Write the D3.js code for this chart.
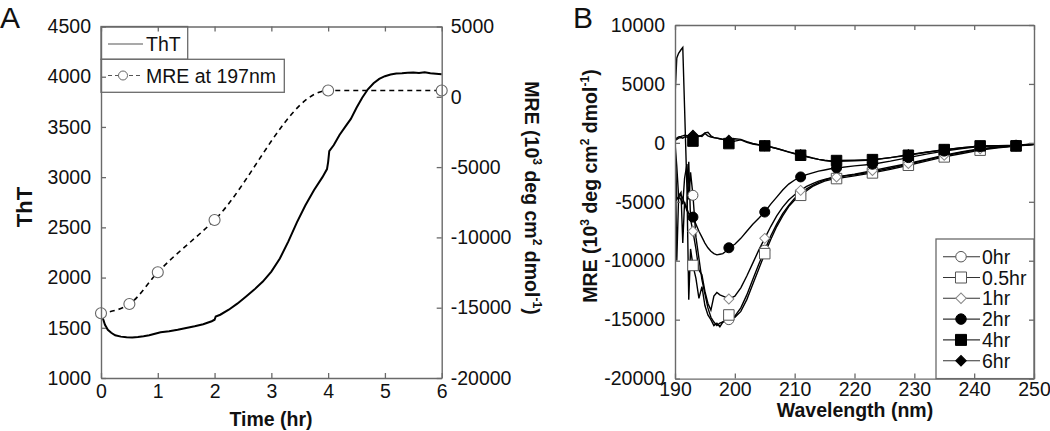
<!DOCTYPE html>
<html><head><meta charset="utf-8">
<script src="https://cdn.jsdelivr.net/npm/d3@7"></script>
<style>
body{margin:0;background:#fff;}
svg{display:block;}
text{font-family:"Liberation Sans",Arial,sans-serif;fill:#111;}
</style></head>
<body><svg id="c" width="1050" height="431"></svg>
<script>
// ---------- Panel A data ----------
const thtTime = [0,0.03,0.07,0.12,0.18,0.25,0.35,0.45,0.55,0.65,0.75,0.85,0.95,1.05,1.2,1.35,1.5,1.65,1.8,1.95,2.0,2.02,2.1,2.25,2.4,2.55,2.7,2.85,3.0,3.15,3.3,3.45,3.6,3.75,3.9,3.98,4.0,4.02,4.1,4.2,4.3,4.4,4.5,4.6,4.7,4.8,4.9,5.0,5.1,5.2,5.3,5.4,5.5,5.6,5.7,5.8,5.9,6.0];
const thtValue = [1660,1600,1530,1480,1450,1425,1412,1405,1404,1408,1415,1425,1440,1455,1465,1480,1498,1515,1535,1565,1580,1612,1630,1680,1740,1810,1880,1960,2060,2190,2360,2550,2720,2870,3000,3080,3150,3260,3320,3420,3500,3580,3690,3790,3875,3935,3978,4005,4022,4033,4035,4040,4042,4038,4045,4035,4030,4025];
const mreTime = [0,0.5,1,2,4,6];
const mreValue = [-15400,-14740,-12480,-8760,450,450];
const thtTicks = [1000,1500,2000,2500,3000,3500,4000,4500];
const mreTicks = [-20000,-15000,-10000,-5000,0,5000];
const timeTicks = [0,1,2,3,4,5,6];

// ---------- Panel B data ----------
const wavelengths = [190,190.3,190.6,191,191.3,191.6,192,192.3,192.6,193,
  193.5,194,194.5,195,195.5,196,196.5,197,197.5,198,198.5,
  199,200,201,202,203,204,205,206,207,208,209,210,211,212,213,214,215,216,217,
  220,223,226,229,232,235,238,241,244,247,250];
const seriesNames = ["0hr","0.5hr","1hr","2hr","4hr","6hr"];
const mre0hr = [0,-10000,-4600,-4800,-5200,-3000,-1800,-4800,-2500,-4450,
  -8000,-9800,-11600,-12800,-14000,-14800,-15200,-15500,-15300,-15200,-15100,
  -15000,-14700,-14000,-12900,-11600,-10300,-9100,-7900,-6900,-6000,-5300,-4700,-4300,-3900,-3600,-3350,-3150,-3000,-2900,
  -2700,-2450,-2150,-1800,-1450,-1100,-800,-550,-380,-250,-130];
const mre05hr = [4000,7200,7600,7900,8100,3000,-4000,-13300,-9000,-10400,
  -11500,-13200,-12200,-13800,-14600,-15000,-15500,-15300,-15600,-15200,-15000,
  -14600,-14800,-14300,-13300,-12000,-10700,-9400,-8200,-7100,-6200,-5400,-4850,-4450,-4050,-3700,-3450,-3250,-3120,-3030,
  -2800,-2550,-2250,-1900,-1550,-1190,-900,-620,-420,-270,-150];
const mre1hr = [0,-2000,-4500,-4200,-8500,-5000,-5800,-1600,-6500,-7500,
  -9000,-10800,-11200,-12600,-13600,-14200,-13000,-12700,-12900,-13000,-13100,
  -13250,-13000,-12300,-11300,-10200,-9100,-8100,-7100,-6200,-5450,-4850,-4400,-4030,-3700,-3450,-3250,-3100,-2980,-2890,
  -2650,-2350,-2050,-1750,-1400,-1050,-750,-500,-350,-250,-130];
const mre2hr = [0,-4800,-4600,-4400,-4700,-5200,-5600,-6000,-6100,-6300,
  -6900,-7500,-8000,-8500,-8900,-9200,-9400,-9500,-9450,-9400,-9200,
  -8900,-8600,-8100,-7500,-6900,-6400,-5870,-5200,-4600,-4000,-3500,-3150,-2890,-2700,-2550,-2400,-2300,-2200,-2130,
  -1950,-1815,-1550,-1250,-950,-700,-480,-300,-230,-200,-100];
const mre4hr = [200,300,400,450,400,500,500,450,400,150,
  450,600,550,800,600,500,450,400,350,300,200,
  -60,150,250,50,-100,-180,-255,-350,-480,-630,-780,-920,-1050,-1180,-1300,-1400,-1480,-1530,-1500,
  -1470,-1420,-1250,-1050,-800,-570,-400,-255,-250,-255,-80];
const mre6hr = [300,400,500,550,600,650,600,650,600,650,
  700,550,650,850,900,600,450,400,350,300,250,
  230,350,300,100,-50,-150,-250,-350,-480,-620,-760,-890,-1000,-1140,-1280,-1400,-1500,-1560,-1560,
  -1520,-1450,-1250,-1000,-800,-600,-420,-300,-260,-250,-120];
const markerWavelengths = [193,199,205,211,217,223,229,235,241,247];
const mreBTicks = [-20000,-15000,-10000,-5000,0,5000,10000];
const wlTicks = [190,200,210,220,230,240,250];

// ---------- drawing ----------
const svg = d3.select("#c");
const AX = "#6a6a6a";
const FS = 19.5;
const fmt = d => String(d);

function styleAxis(g){
  g.selectAll("path.domain").attr("stroke",AX).attr("stroke-width",1.4);
  g.selectAll(".tick line").attr("stroke",AX).attr("stroke-width",1.3);
  g.selectAll(".tick text").attr("font-size",FS).attr("font-family","Liberation Sans, Arial, sans-serif").attr("fill","#111");
}
function supLabel(t, parts){
  parts.forEach(p=>{
    const ts = t.append("tspan").text(p.t);
    if(p.sup){ ts.attr("font-size",FS*0.62).attr("dy",-8); }
    else if(p.down){ ts.attr("dy",8); }
  });
}

// Panel A
const xA = d3.scaleLinear().domain([0,6]).range([101,441.7]);
const yA = d3.scaleLinear().domain([1000,4500]).range([378,26.5]);
const yA2 = d3.scaleLinear().domain([-20000,5000]).range([378,26.5]);

const gA = svg.append("g");
gA.append("path").datum(thtTime.map((t,i)=>[t,thtValue[i]]))
  .attr("d",d3.line().x(d=>xA(d[0])).y(d=>yA(d[1])))
  .attr("fill","none").attr("stroke","#000").attr("stroke-width",2);
gA.append("path").datum(mreTime.map((t,i)=>[t,mreValue[i]]))
  .attr("d",d3.line().x(d=>xA(d[0])).y(d=>yA2(d[1])).curve(d3.curveMonotoneX))
  .attr("fill","none").attr("stroke","#000").attr("stroke-width",1.6).attr("stroke-dasharray","5,4");
gA.selectAll("circle.mre").data(mreTime.map((t,i)=>[t,mreValue[i]])).join("circle")
  .attr("cx",d=>xA(d[0])).attr("cy",d=>yA2(d[1])).attr("r",5.5)
  .attr("fill","#fff").attr("stroke","#666").attr("stroke-width",1.1);

// legend A
const legA = svg.append("g");
legA.append("rect").attr("x",101).attr("y",26.5).attr("width",86.7).attr("height",32.8).attr("fill","#fff").attr("stroke",AX).attr("stroke-width",1.3);
legA.append("rect").attr("x",101).attr("y",59.3).attr("width",183.3).attr("height",33).attr("fill","#fff").attr("stroke",AX).attr("stroke-width",1.3);
legA.append("line").attr("x1",108).attr("x2",143).attr("y1",44).attr("y2",44).attr("stroke","#555").attr("stroke-width",1.1);
legA.append("text").attr("x",146).attr("y",50.5).attr("font-size",FS).text("ThT");
legA.append("line").attr("x1",108).attr("x2",143).attr("y1",75.5).attr("y2",75.5).attr("stroke","#555").attr("stroke-width",1.1).attr("stroke-dasharray","4,3");
legA.append("circle").attr("cx",123).attr("cy",75.5).attr("r",4.5).attr("fill","#fff").attr("stroke","#666").attr("stroke-width",1);
legA.append("text").attr("x",146).attr("y",82.5).attr("font-size",FS).text("MRE at 197nm");

// axes A
const aL = svg.append("g").attr("transform","translate(101,0)")
  .call(d3.axisLeft(yA).tickValues(thtTicks).tickSizeInner(-5).tickSizeOuter(0).tickPadding(10).tickFormat(fmt));
const aR = svg.append("g").attr("transform","translate(441.7,0)")
  .call(d3.axisRight(yA2).tickValues(mreTicks).tickSizeInner(-5).tickSizeOuter(0).tickPadding(9).tickFormat(fmt));
const aB = svg.append("g").attr("transform","translate(0,378)")
  .call(d3.axisBottom(xA).tickValues(timeTicks).tickSizeInner(-5).tickSizeOuter(0).tickPadding(6).tickFormat(fmt));
const aT = svg.append("g").attr("transform","translate(0,26.5)")
  .call(d3.axisTop(xA).tickValues(timeTicks).tickSizeInner(-5).tickSizeOuter(0).tickFormat(""));
[aL,aR,aB,aT].forEach(styleAxis);

svg.append("text").attr("x",271).attr("y",426).attr("text-anchor","middle").attr("font-size",FS).attr("font-weight","bold").text("Time (hr)");
svg.append("text").attr("transform","translate(32,207) rotate(-90)").attr("text-anchor","middle").attr("font-size",22).attr("font-weight","bold").text("ThT");
const rl = svg.append("text").attr("transform","translate(525,198) rotate(90)").attr("text-anchor","middle").attr("font-size",FS).attr("font-weight","bold");
supLabel(rl,[{t:"MRE  (10"},{t:"3",sup:true},{t:" deg cm",down:true},{t:"2",sup:true},{t:" dmol",down:true},{t:"-1",sup:true},{t:")",down:true}]);
svg.append("text").attr("x",0).attr("y",28).attr("font-family","Lato, sans-serif").attr("font-size",30).text("A");

// Panel B
const xB = d3.scaleLinear().domain([190,250]).range([675,1034]);
const yB = d3.scaleLinear().domain([-20000,10000]).range([378.6,25]);
const allSeries = [mre0hr,mre05hr,mre1hr,mre2hr,mre4hr,mre6hr];
const gB = svg.append("g");
svg.append("clipPath").attr("id","cb").append("rect").attr("x",675).attr("y",25).attr("width",359).attr("height",353.6);
gB.attr("clip-path","url(#cb)");
allSeries.forEach(s=>{
  gB.append("path").datum(wavelengths.map((w,i)=>[w,s[i]]))
    .attr("d",d3.line().x(d=>xB(d[0])).y(d=>yB(d[1])))
    .attr("fill","none").attr("stroke","#000").attr("stroke-width",1.4);
});
const markerStyles = [
  {shape:"circle",fill:"#fff",stroke:"#555"},
  {shape:"square",fill:"#fff",stroke:"#555"},
  {shape:"diamond",fill:"#fff",stroke:"#888"},
  {shape:"circle",fill:"#000",stroke:"#000"},
  {shape:"square",fill:"#000",stroke:"#000"},
  {shape:"diamond",fill:"#000",stroke:"#000"}
];
function drawMarker(g,x,y,st,scale){
  scale = scale||1;
  if(st.shape==="circle"){
    g.append("path").attr("d",d3.symbol(d3.symbolCircle, Math.PI*25*scale*scale)()).attr("transform",`translate(${x},${y})`)
      .attr("fill",st.fill).attr("stroke",st.stroke).attr("stroke-width",1);
  } else if(st.shape==="square"){
    g.append("path").attr("d",d3.symbol(d3.symbolSquare, 110*scale*scale)()).attr("transform",`translate(${x},${y})`)
      .attr("fill",st.fill).attr("stroke",st.stroke).attr("stroke-width",1);
  } else {
    g.append("path").attr("d",d3.symbol(d3.symbolSquare, 50*scale*scale)()).attr("transform",`translate(${x},${y}) rotate(45)`)
      .attr("fill",st.fill).attr("stroke",st.stroke).attr("stroke-width",1);
  }
}
allSeries.forEach((s,k)=>{
  markerWavelengths.forEach(w=>{
    const i = wavelengths.indexOf(w);
    drawMarker(gB, xB(w), yB(s[i]), markerStyles[k]);
  });
});

// legend B
const legB = svg.append("g");
legB.append("rect").attr("x",936).attr("y",239).attr("width",98).attr("height",139.6).attr("fill","#fff").attr("stroke",AX).attr("stroke-width",1.3);
seriesNames.forEach((n,k)=>{
  const yy = 256.7 + k*20.8;
  legB.append("line").attr("x1",943).attr("x2",980).attr("y1",yy).attr("y2",yy).attr("stroke","#333").attr("stroke-width",1.1);
  drawMarker(legB,961,yy,markerStyles[k],1.05);
  legB.append("text").attr("x",982).attr("y",yy+7).attr("font-size",FS).text(n);
});

const bL = svg.append("g").attr("transform","translate(675,0)")
  .call(d3.axisLeft(yB).tickValues(mreBTicks).tickSizeInner(-5).tickSizeOuter(0).tickPadding(10).tickFormat(fmt));
const bR = svg.append("g").attr("transform","translate(1034,0)")
  .call(d3.axisRight(yB).tickValues(mreBTicks).tickSizeInner(-5).tickSizeOuter(0).tickFormat(""));
const bB = svg.append("g").attr("transform","translate(0,378.6)")
  .call(d3.axisBottom(xB).tickValues(wlTicks).tickSizeInner(-5).tickSizeOuter(0).tickPadding(4).tickFormat(fmt));
const bT = svg.append("g").attr("transform","translate(0,25)")
  .call(d3.axisTop(xB).tickValues(wlTicks).tickSizeInner(-5).tickSizeOuter(0).tickFormat(""));
[bL,bR,bB,bT].forEach(styleAxis);

svg.append("text").attr("x",855).attr("y",417).attr("text-anchor","middle").attr("font-size",FS).attr("font-weight","bold").text("Wavelength (nm)");
const ll = svg.append("text").attr("transform","translate(597,186) rotate(-90)").attr("text-anchor","middle").attr("font-size",FS).attr("font-weight","bold");
supLabel(ll,[{t:"MRE (10"},{t:"3",sup:true},{t:" deg cm",down:true},{t:"2",sup:true},{t:" dmol",down:true},{t:"-1",sup:true},{t:")",down:true}]);
svg.append("text").attr("x",573).attr("y",28).attr("font-family","Lato, sans-serif").attr("font-size",30).text("B");
</script></body></html>
